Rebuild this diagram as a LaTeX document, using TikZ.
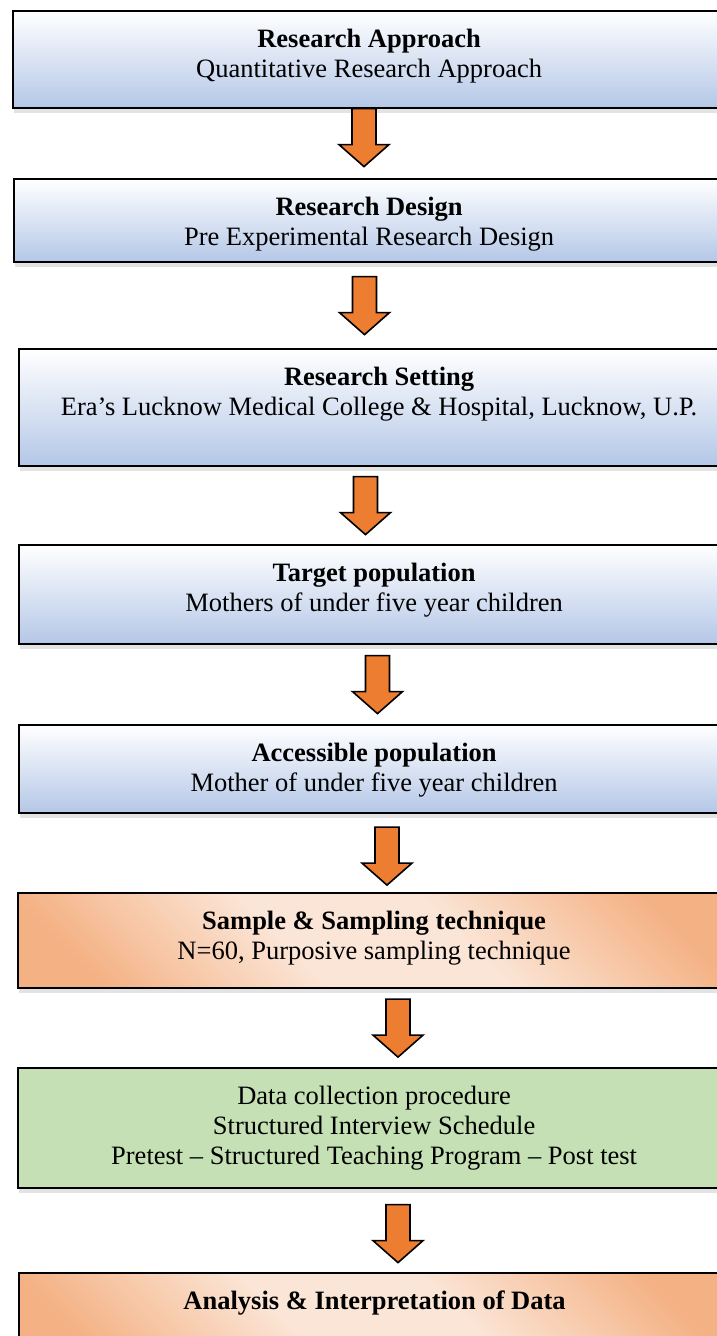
\documentclass[tikz,border=0pt]{standalone}
\usepackage{fontspec}
\setmainfont{Liberation Serif}
\usetikzlibrary{calc,positioning,shadows}
\definecolor{boxblue}{HTML}{B4C7E7}
\definecolor{boxpeach}{HTML}{FBE5D6}
\definecolor{boxorange}{HTML}{F4B183}
\definecolor{boxgreen}{HTML}{C5E0B4}
\definecolor{arroworange}{HTML}{ED7D31}
\pgfdeclarehorizontalshading{peachband}{100bp}{color(0bp)=(boxorange); color(22bp)=(boxorange);
	color(42bp)=(boxpeach); color(58bp)=(boxpeach); color(78bp)=(boxorange); color(100bp)=(boxorange)}
\tikzset{
		flowbox/.style={
			rectangle,
			draw=black, line width=2.2pt,
			anchor=north west,
			minimum width=712pt,
			inner sep=0pt,
			drop shadow={shadow xshift=1pt, shadow yshift=-5pt, opacity=0.22}},
		bluebox/.style={flowbox, top color=white, bottom color=boxblue},
		peachbox/.style={flowbox, shade, shading=peachband, shading angle=45},
		greenbox/.style={flowbox, fill=boxgreen},
		boxlabel/.style={
			anchor=north, inner sep=0pt, align=center,
			font=\fontsize{26.5}{30}\selectfont,
			below=19pt of #1.north},
		fatarrow/.style={fill=arroworange, draw=black, line width=1.6pt, line join=miter},
	}
% block arrow between two boxes: [nudge]{from}{to}{x}
\newcommand{\flowarrow}[4][0]{%
	\filldraw[fatarrow] let \p1=(#2.south), \p2=(#3.north), \n1={(\y1+\y2)/2+(#1pt)} in
	(#4-12,\n1+29) -- (#4+12,\n1+29) -- (#4+12,\n1-7) -- (#4+25,\n1-7)
	-- (#4,\n1-29) -- (#4-25,\n1-7) -- (#4-12,\n1-7) -- cycle;}

\begin{document}
\begin{tikzpicture}[x=1pt, y=1pt]
			\useasboundingbox (0,0) rectangle (717,-1336);
			\clip (0,0) rectangle (717,-1336);
			
			\node[bluebox, minimum height=97pt] (approach) at (12,-10) {};
			\node[bluebox, minimum width=710pt, minimum height=83pt] (design) at (13,-178) {};
			\node[bluebox, minimum width=720pt, minimum height=117pt] (setting) at (18,-348) {};
			\node[bluebox, minimum width=710pt, minimum height=99pt] (target) at (18,-544) {};
			\node[bluebox, minimum width=710pt, minimum height=88pt] (accessible) at (18,-724) {};
			\node[peachbox, minimum height=95pt] (sample) at (17,-892) {};
			\node[greenbox, minimum height=120pt] (collection) at (17,-1067) {};
			\node[peachbox, minimum width=711pt, minimum height=90pt] (analysis) at (18,-1272) {};
			
			\node[boxlabel=approach] (approach-l) {\textbf{Research Approach}\\Quantitative Research Approach};
			\node[boxlabel=design] (design-l) {\textbf{Research Design}\\Pre Experimental Research Design};
			\node[boxlabel=setting] (setting-l) {\textbf{Research Setting}\\Era’s Lucknow Medical College \& Hospital, Lucknow, U.P.};
			\node[boxlabel=target] (target-l) {\textbf{Target population}\\Mothers of under five year children};
			\node[boxlabel=accessible] (accessible-l) {\textbf{Accessible population}\\Mother of under five year children};
			\node[boxlabel=sample] (sample-l) {\textbf{Sample \& Sampling technique}\\N=60, Purposive sampling technique};
			\node[boxlabel=collection] (collection-l) {Data collection procedure\\Structured Interview Schedule\\Pretest – Structured Teaching Program – Post test};
			\node[boxlabel=analysis] (analysis-l) {\textbf{Analysis \& Interpretation of Data}};
			
			\flowarrow[6]{approach}{design}{364}
			\flowarrow{design}{setting}{364.5}
			\flowarrow{setting}{target}{365.5}
			\flowarrow{target}{accessible}{377.5}
			\flowarrow[-3]{accessible}{sample}{387}
			\flowarrow{sample}{collection}{398}
			\flowarrow[-3]{collection}{analysis}{398}
\end{tikzpicture}
\end{document}
